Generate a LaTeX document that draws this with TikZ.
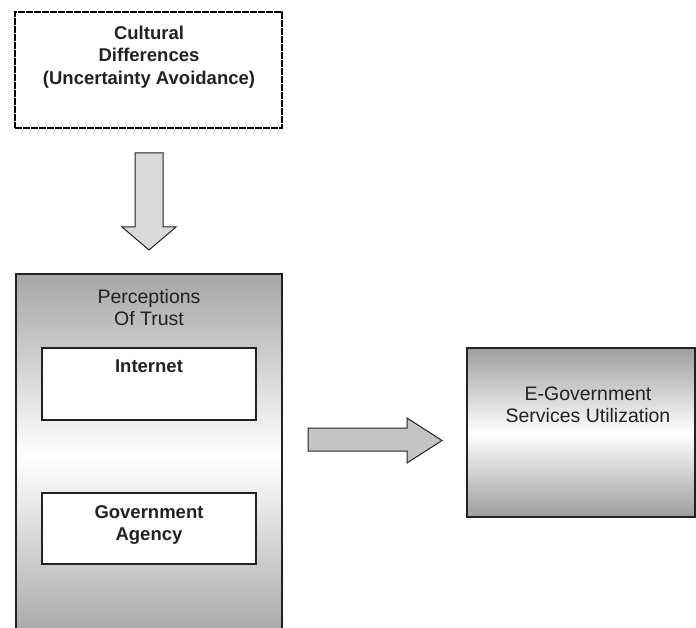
\documentclass[tikz,border=0pt]{standalone}
\usepackage{fontspec}
\setmainfont{Liberation Sans}
\definecolor{ink}{HTML}{222222}
\definecolor{shade}{HTML}{A6A6A6}
\definecolor{shadeb}{HTML}{9E9E9E}
\definecolor{arrowfill}{HTML}{D9D9D9}
\definecolor{arrowfillb}{HTML}{C4C4C4}
\tikzset{
  box/.style={draw=ink, line width=1.2pt, rectangle, inner sep=0pt},
  plainbox/.style={box, fill=white},
  shadedbox/.style={box, top color=shade, bottom color=shade, middle color=white},
  boldlabel/.style={align=center, text=ink, inner sep=0pt,
    font=\fontsize{18.5}{22.5}\selectfont\bfseries},
  reglabel/.style={align=center, text=ink, inner sep=0pt,
    font=\fontsize{19.5}{22}\selectfont},
  blockarrow/.style={draw=ink, line width=1pt, line join=miter}
}
\begin{document}
\begin{tikzpicture}[x=1pt,y=-1pt]
\useasboundingbox (0,0) rectangle (696,628);
\clip (0,0) rectangle (696,628);
% top box
\node[plainbox, draw=black, dash pattern=on 7pt off 1pt, line width=1.6pt, minimum width=267pt, minimum height=116pt] (cult) at (148.5,70) {};
\node[boldlabel] (culttxt) at (149,57) {Cultural\\Differences\\(Uncertainty Avoidance)};
% down arrow
\draw[blockarrow, fill=arrowfill] (135,153) -- (163,153) -- (163,227) -- (176,227) -- (149,250) -- (122,227) -- (135,227) -- cycle;
% perceptions box
\node[shadedbox, minimum width=266pt, minimum height=366pt] (perc) at (149,457) {};
\node[reglabel] (perctxt) at (149,308) {Perceptions\\Of Trust};
\node[plainbox, minimum width=214pt, minimum height=72pt] (inet) at (149,384) {};
\node[boldlabel] (inettxt) at (149,366) {Internet};
\node[plainbox, minimum width=214pt, minimum height=71pt] (gov) at (149,528.5) {};
\node[boldlabel] (govtxt) at (149,525) {Government\\Agency};
% right arrow
\draw[blockarrow, fill=arrowfillb] (308,428) -- (407,428) -- (407,418) -- (442,440.5) -- (407,463) -- (407,451) -- (308,451) -- cycle;
% e-gov box
\node[box, top color=shadeb, bottom color=shadeb, middle color=white, minimum width=228pt, minimum height=169pt] (egov) at (581,432.5) {};
\node[reglabel] (egovtxt) at (588,405) {E-Government\\Services Utilization};
\end{tikzpicture}
\end{document}
